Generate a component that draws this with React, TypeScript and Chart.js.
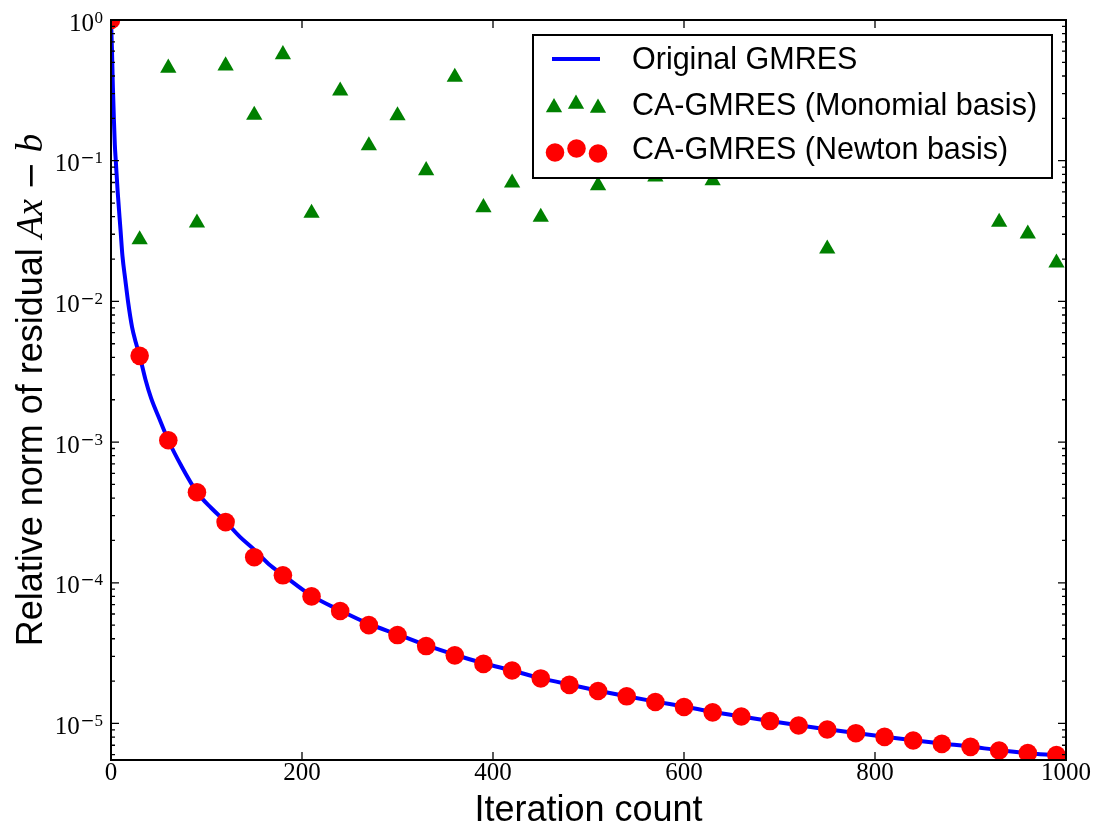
import React, { useEffect, useRef } from 'react';
import { Chart, registerables } from 'chart.js';

Chart.register(...registerables);

// ---- data ----
const lineIter = [0, 1, 2, 3, 4, 5, 7, 10, 12, 15, 18, 22, 26, 30, 36, 42, 50, 60, 74, 90, 105, 120, 135, 150, 165, 180, 210, 240, 270, 300, 330, 360, 390, 420, 450, 480, 510, 540, 570, 600, 630, 660, 690, 720, 750, 780, 810, 840, 870, 900, 930, 960, 990, 1000];
const lineResidual = [1, 0.62, 0.33, 0.2, 0.13, 0.1, 0.06, 0.032, 0.021, 0.0142, 0.0098, 0.0066, 0.0051, 0.0041, 0.0028, 0.00205, 0.0015, 0.00103, 0.00067, 0.00044, 0.00034, 0.000272, 0.000212, 0.000172, 0.000136, 0.000114, 8.1e-5, 6.35e-5, 5.1e-5, 4.3e-5, 3.6e-5, 3.08e-5, 2.68e-5, 2.38e-5, 2.1e-5, 1.89e-5, 1.71e-5, 1.56e-5, 1.43e-5, 1.32e-5, 1.21e-5, 1.12e-5, 1.04e-5, 9.7e-6, 9.1e-6, 8.55e-6, 8.05e-6, 7.6e-6, 7.2e-6, 6.85e-6, 6.45e-6, 6.15e-6, 5.95e-6, 5.88e-6];

const newtonIter = [0, 30, 60, 90, 120, 150, 180, 210, 240, 270, 300, 330, 360, 390, 420, 450, 480, 510, 540, 570, 600, 630, 660, 690, 720, 750, 780, 810, 840, 870, 900, 930, 960, 990];
const newtonResidual = [1, 4.1e-3, 1.03e-3, 4.4e-4, 2.7e-4, 1.52e-4, 1.13e-4, 8.0e-5, 6.3e-5, 5.0e-5, 4.25e-5, 3.55e-5, 3.05e-5, 2.65e-5, 2.38e-5, 2.09e-5, 1.88e-5, 1.7e-5, 1.56e-5, 1.42e-5, 1.31e-5, 1.2e-5, 1.12e-5, 1.04e-5, 9.68e-6, 9.06e-6, 8.53e-6, 8.03e-6, 7.57e-6, 7.16e-6, 6.82e-6, 6.43e-6, 6.15e-6, 5.96e-6];

const monoIter = [30, 60, 90, 120, 150, 180, 210, 240, 270, 300, 330, 360, 390, 420, 450, 480, 510, 540, 570, 600, 630, 660, 690, 720, 750, 780, 810, 840, 870, 900, 930, 960, 990];
const monoResidual = [0.0275, 0.456, 0.0362, 0.473, 0.211, 0.569, 0.0424, 0.314, 0.128, 0.209, 0.0852, 0.393, 0.0465, 0.0696, 0.0397, 0.15, 0.0667, 0.3, 0.0768, 0.5, 0.0724, 0.12, 0.25, 0.4, 0.0236, 0.2, 0.6, 0.15, 0.35, 0.1, 0.0366, 0.0302, 0.0188];

const xTicks = [0, 200, 400, 600, 800, 1000];
const yTickExponents = [0, -1, -2, -3, -4, -5];
const minorMultipliers = [2, 3, 4, 5, 6, 7, 8, 9];
const legendLabels = ['Original GMRES', 'CA-GMRES (Monomial basis)', 'CA-GMRES (Newton basis)'];
const xTitle = 'Iteration count';
const yTitleText = 'Relative norm of residual ';

const X_MIN = 0;
const X_MAX = 1000;
const Y_MIN = 5.5e-6;
const Y_MAX = 1;

const BLUE = '#0000ff';
const GREEN = '#008000';
const RED = '#ff0000';

function triPath(ctx: CanvasRenderingContext2D, x: number, y: number, r: number) {
  let rad = 0;
  ctx.beginPath();
  ctx.moveTo(x + Math.sin(rad) * r, y - Math.cos(rad) * r);
  rad += (2 * Math.PI) / 3;
  ctx.lineTo(x + Math.sin(rad) * r, y - Math.cos(rad) * r);
  rad += (2 * Math.PI) / 3;
  ctx.lineTo(x + Math.sin(rad) * r, y - Math.cos(rad) * r);
  ctx.closePath();
}

const overlayPlugin = {
  id: 'overlay',
  afterDraw(chart: any) {
    const ctx: CanvasRenderingContext2D = chart.ctx;
    const a = chart.chartArea;
    const xs = chart.scales.x;
    const ys = chart.scales.y;
    ctx.save();

    // legend box
    const lx = a.right - 14;
    const lLeft = 533;
    const lTop = a.top + 15;
    const lBottom = 178;
    ctx.fillStyle = '#ffffff';
    ctx.fillRect(lLeft, lTop, lx - lLeft, lBottom - lTop);
    ctx.lineWidth = 2;
    ctx.strokeStyle = '#000000';
    ctx.strokeRect(lLeft, lTop, lx - lLeft, lBottom - lTop);

    // handles
    ctx.strokeStyle = BLUE;
    ctx.lineWidth = 4;
    ctx.beginPath();
    ctx.moveTo(552, 59);
    ctx.lineTo(600, 59);
    ctx.stroke();

    ctx.fillStyle = GREEN;
    [[554, 107.5], [576, 104], [598, 108]].forEach(([x, y]) => {
      triPath(ctx, x, y, 9.4);
      ctx.fill();
    });
    ctx.fillStyle = RED;
    [[555, 152.5], [576.5, 148.5], [598, 153.5]].forEach(([x, y]) => {
      ctx.beginPath();
      ctx.arc(x, y, 9.3, 0, Math.PI * 2);
      ctx.fill();
    });

    ctx.fillStyle = '#000000';
    ctx.font = '30.5px "Liberation Sans"';
    ctx.textAlign = 'left';
    ctx.textBaseline = 'alphabetic';
    const baselines = [69, 115, 158.5];
    legendLabels.forEach((t, i) => ctx.fillText(t, 632, baselines[i]));

    // frame
    ctx.strokeStyle = '#000000';
    ctx.lineWidth = 2;
    ctx.strokeRect(a.left, a.top, a.right - a.left, a.bottom - a.top);

    // ticks
    ctx.lineWidth = 1.3;
    ctx.beginPath();
    xTicks.forEach((v) => {
      const px = xs.getPixelForValue(v);
      ctx.moveTo(px, a.bottom);
      ctx.lineTo(px, a.bottom - 8);
      ctx.moveTo(px, a.top);
      ctx.lineTo(px, a.top + 8);
    });
    yTickExponents.forEach((e) => {
      const py = ys.getPixelForValue(Math.pow(10, e));
      ctx.moveTo(a.left, py);
      ctx.lineTo(a.left + 8, py);
      ctx.moveTo(a.right, py);
      ctx.lineTo(a.right - 8, py);
    });
    for (let e = -6; e <= -1; e++) {
      minorMultipliers.forEach((k) => {
        const v = k * Math.pow(10, e);
        if (v <= Y_MIN || v >= Y_MAX) return;
        const py = ys.getPixelForValue(v);
        ctx.moveTo(a.left, py);
        ctx.lineTo(a.left + 4, py);
        ctx.moveTo(a.right, py);
        ctx.lineTo(a.right - 4, py);
      });
    }
    ctx.stroke();

    // x tick labels
    ctx.fillStyle = '#000000';
    ctx.font = '25px "Liberation Serif"';
    ctx.textAlign = 'center';
    xTicks.forEach((v) => {
      const px = xs.getPixelForValue(v);
      ctx.fillText(String(v), px, a.bottom + 20);
    });

    // y tick labels 10^e
    ctx.textAlign = 'right';
    yTickExponents.forEach((e) => {
      const py = ys.getPixelForValue(Math.pow(10, e));
      let right = a.left - 8;
      ctx.font = '17px "Liberation Serif"';
      const digit = String(Math.abs(e));
      ctx.fillText(digit, right, py + 2.5);
      right -= ctx.measureText(digit).width;
      if (e < 0) {
        ctx.font = '17px "DejaVu Serif"';
        ctx.fillText('\u2212', right, py + 2.5);
        right -= ctx.measureText('\u2212').width;
      }
      ctx.font = '25px "Liberation Serif"';
      ctx.fillText('10', right - 0.5, py + 10.5);
    });

    // x title
    ctx.textAlign = 'center';
    ctx.font = '36px "Liberation Sans"';
    ctx.fillText(xTitle, (a.left + a.right) / 2, 821);

    // y title (mixed fonts)
    const parts: [string, string][] = [
      [yTitleText, '36px "Liberation Sans"'],
      ['Ax', 'italic 37px "Liberation Serif"'],
      [' ', '37px "Liberation Serif"'],
      ['\u2212', '34px "DejaVu Serif"'],
      [' ', '37px "Liberation Serif"'],
      ['b', 'italic 37px "Liberation Serif"'],
    ];
    let total = 0;
    const widths = parts.map(([t, f]) => {
      ctx.font = f;
      const w = ctx.measureText(t).width;
      total += w;
      return w;
    });
    ctx.translate(42, (a.top + a.bottom) / 2);
    ctx.rotate(-Math.PI / 2);
    ctx.textAlign = 'left';
    let u = -total / 2;
    parts.forEach(([t, f], i) => {
      ctx.font = f;
      ctx.fillText(t, u, 0);
      u += widths[i];
    });
    ctx.restore();
  },
};

export default function App() {
  const ref = useRef<HTMLCanvasElement | null>(null);
  useEffect(() => {
    if (!ref.current) return;
    const chart = new Chart(ref.current, {
      type: 'line',
      data: {
        datasets: [
          {
            label: legendLabels[2],
            data: newtonIter.map((x, i) => ({ x, y: newtonResidual[i] })),
            showLine: false,
            pointStyle: 'circle',
            pointRadius: 9.3,
            pointBackgroundColor: RED,
            pointBorderWidth: 0,
            borderColor: RED,
            backgroundColor: RED,
            order: 0,
            clip: 0,
          } as any,
          {
            label: legendLabels[1],
            data: monoIter.map((x, i) => ({ x, y: monoResidual[i] })),
            showLine: false,
            pointStyle: 'triangle',
            pointRadius: 9.4,
            pointBackgroundColor: GREEN,
            pointBorderWidth: 0,
            borderColor: GREEN,
            backgroundColor: GREEN,
            order: 1,
            clip: 0,
          } as any,
          {
            label: legendLabels[0],
            data: lineIter.map((x, i) => ({ x, y: lineResidual[i] })),
            borderColor: BLUE,
            borderWidth: 4,
            pointRadius: 0,
            fill: false,
            cubicInterpolationMode: 'monotone',
            order: 2,
            clip: 0,
          } as any,
        ],
      },
      options: {
        responsive: false,
        animation: false,
        devicePixelRatio: 1,
        events: [],
        layout: { padding: { top: 20, right: 27, left: 0, bottom: 0 } },
        plugins: { legend: { display: false }, tooltip: { enabled: false } },
        scales: {
          x: {
            type: 'linear',
            min: X_MIN,
            max: X_MAX,
            ticks: { display: false },
            grid: { display: false },
            border: { display: false },
            afterFit: (s: any) => {
              s.height = 67;
            },
          },
          y: {
            type: 'logarithmic',
            min: Y_MIN,
            max: Y_MAX,
            ticks: { display: false },
            grid: { display: false },
            border: { display: false },
            afterFit: (s: any) => {
              s.width = 111;
            },
          },
        },
      } as any,
      plugins: [overlayPlugin],
    });
    return () => chart.destroy();
  }, []);
  return (
    <div style={{ position: 'absolute', left: 0, top: 0, width: 1093, height: 827, background: '#fff' }}>
      <canvas ref={ref} width={1093} height={827} style={{ display: 'block', width: 1093, height: 827 }} />
    </div>
  );
}
